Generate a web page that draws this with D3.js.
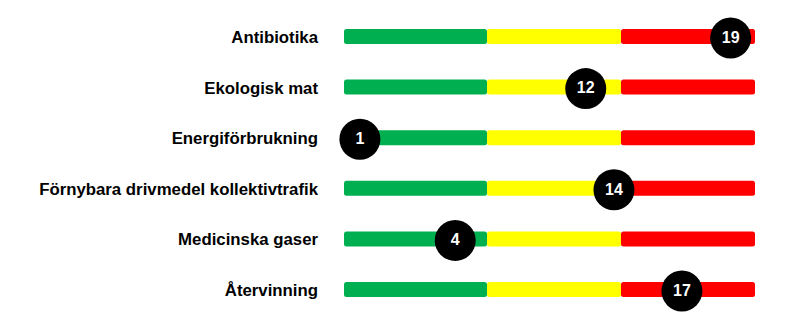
<!DOCTYPE html>
<html>
<head>
<meta charset="utf-8">
<script src="https://cdn.jsdelivr.net/npm/d3@7"></script>
<style>
  html, body { margin: 0; padding: 0; background: #ffffff; }
  svg { display: block; }
</style>
</head>
<body>
<div id="chart"></div>
<script>
// Indicators, in display order
const categories = [
  "Antibiotika",
  "Ekologisk mat",
  "Energiförbrukning",
  "Förnybara drivmedel kollektivtrafik",
  "Medicinska gaser",
  "Återvinning"
];

// Ranking shown in each marker
const ranks = [19, 12, 1, 14, 4, 17];

// Traffic-light zones: rank thresholds and colours
const zoneBounds = [0.5, 5, 14.5, 20];
const zoneColors = ["#00B050", "#FFFF00", "#FF0000"];

const width = 799, height = 318;

const svg = d3.select("#chart").append("svg")
  .attr("width", width)
  .attr("height", height);

// Horizontal position: each zone maps onto its own stretch of the track
const x = d3.scaleLinear()
  .domain(zoneBounds)
  .range([344, 487, 621, 755])
  .clamp(true);

// Vertical position of each row
const y = d3.scalePoint()
  .domain(categories)
  .range([36.5, 289.5]);

const barH = 15;
const font = "'Liberation Sans', Arial, Helvetica, sans-serif";

const rows = svg.selectAll("g.row")
  .data(categories.map((c, i) => ({ name: c, rank: ranks[i] })))
  .join("g")
  .attr("class", "row")
  .attr("transform", d => `translate(0,${y(d.name)})`);

// Row labels
rows.append("text")
  .attr("x", 318)
  .attr("y", 0.5)
  .attr("dy", "0.36em")
  .attr("text-anchor", "end")
  .attr("font-family", font)
  .attr("font-weight", "bold")
  .attr("font-size", 16.8)
  .attr("fill", "#000")
  .text(d => d.name);

// Coloured track segments
rows.selectAll("rect.zone")
  .data(zoneColors.map((c, i) => ({ color: c, from: zoneBounds[i], to: zoneBounds[i + 1] })))
  .join("rect")
  .attr("class", "zone")
  .attr("x", d => x(d.from))
  .attr("y", -barH / 2)
  .attr("width", d => x(d.to) - x(d.from))
  .attr("height", barH)
  .attr("rx", 2.5)
  .attr("fill", d => d.color);

// Rank markers
rows.append("circle")
  .attr("cx", d => x(d.rank))
  .attr("cy", 1.5)
  .attr("r", 20.5)
  .attr("fill", "#000");

rows.append("text")
  .attr("x", d => x(d.rank))
  .attr("y", 0.5)
  .attr("dy", "0.36em")
  .attr("text-anchor", "middle")
  .attr("font-family", font)
  .attr("font-weight", "bold")
  .attr("font-size", 16)
  .attr("fill", "#fff")
  .text(d => d.rank);
</script>
</body>
</html>
